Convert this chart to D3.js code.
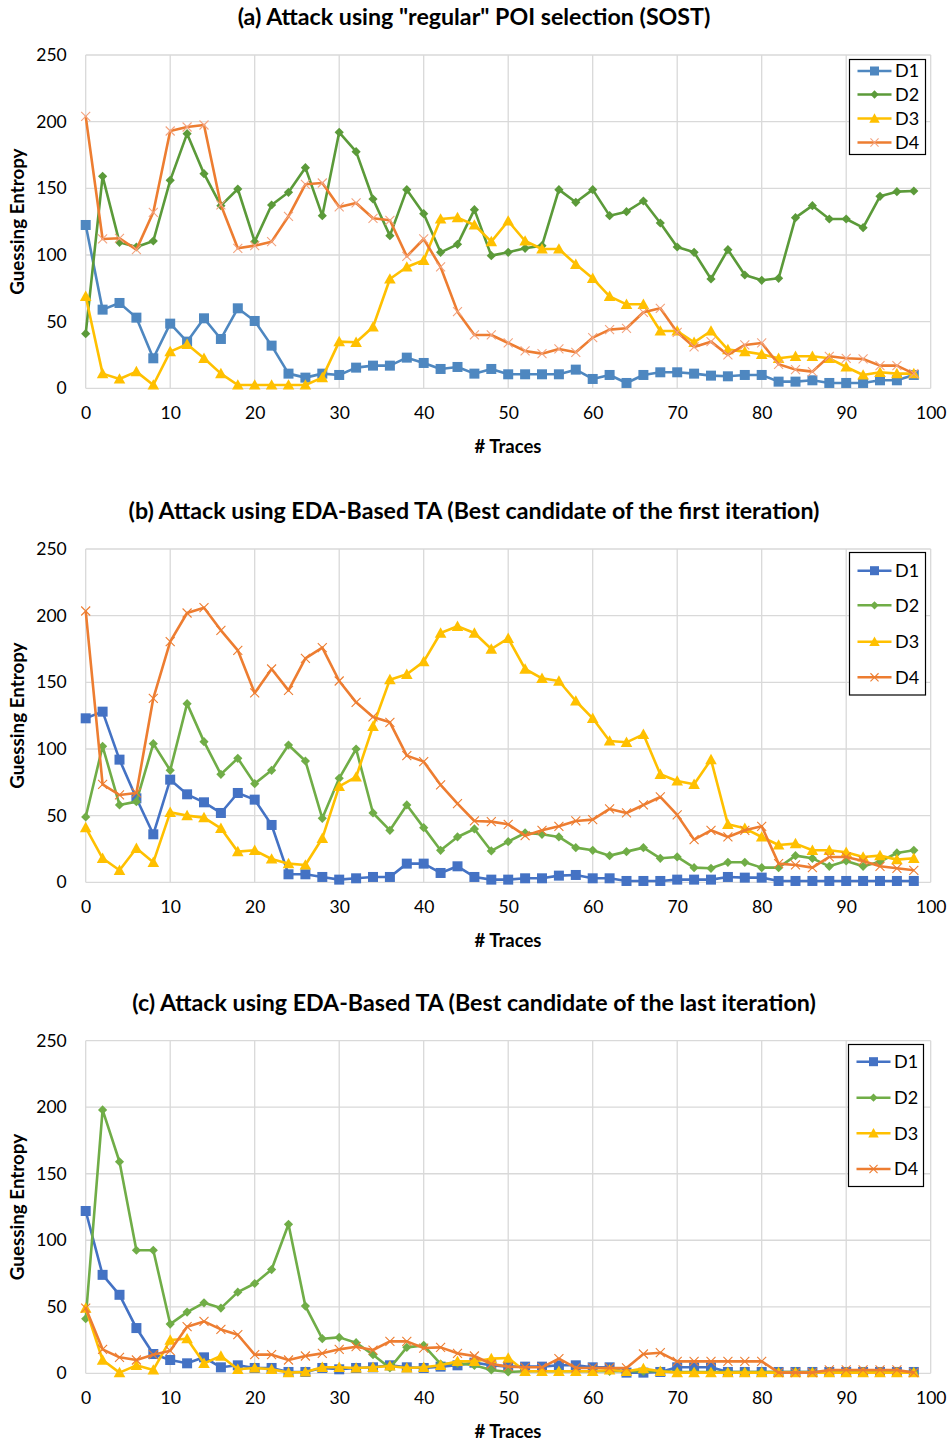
<!DOCTYPE html>
<html><head><meta charset="utf-8">
<script src="https://d3js.org/d3.v7.min.js"></script>
<style>body{margin:0;background:#fff}svg{display:block}</style>
</head><body>
<svg id="c" width="950" height="1445"></svg>
<script>
const traces = [0,2,4,6,8,10,12,14,16,18,20,22,24,26,28,30,32,34,36,38,40,42,44,46,48,50,52,54,56,58,60,62,64,66,68,70,72,74,76,78,80,82,84,86,88,90,92,94,96,98];
const xTicks = [0,10,20,30,40,50,60,70,80,90,100];
const yTicks = [0,50,100,150,200,250];
const seriesNames = ["D1","D2","D3","D4"];
const titles = [
  '(a) Attack using "regular" POI selection (SOST)',
  '(b) Attack using EDA-Based TA (Best candidate of the first iteration)',
  '(c) Attack using EDA-Based TA (Best candidate of the last iteration)'
];
const xLabel = "# Traces";
const yLabel = "Guessing Entropy";

// Panel (a)
const aD1 = [122.5,59,64,53,22.5,48.5,35,52.5,37,60,50.5,32,11,8,11,10,15.5,17,17,23,19,14.5,16,11,14.5,10.5,10.5,10.5,10.5,14,7,10,4,10,12,12,11,9.5,9,10,10,5,5,6,4,4,4,6,6,10];
const aD2 = [41,159,109.5,106,110.5,156,191,161,137,149.5,110,137.5,147,165.5,129.5,192,177.5,142,114.5,149,131,102,108,134,99.5,102,105,107,149,139.5,149,129.5,132.5,140.5,124,106,102,82,104,85,81,82.5,128,137,127,127,120.5,144,147.5,148];
const aD3 = [69,11,7,12.5,2.5,27.5,33,22.5,11,2.5,2.5,2.5,2.5,2.5,8,35,34.5,46,82,91,96,127,128,122.5,110,125.5,110.5,104.5,104.5,93,82.5,69,63,63,43,43,34.5,43,29,27.5,25.5,22.5,24,24,22.5,16,10,12,11,11];
const aD4 = [204,112,112.5,104,132,193,196,197.5,137.5,105,107,110,129,153,154,136,139,127.5,126,99,112,91,57.5,40,40,34,28,26,29.5,27,38,44,45,57,60,42,31,35,25,32.5,34,18,14,12.5,24,22.5,22,17,17,11];

// Panel (b)
const bD1 = [123,128,92,63,36,77,66,60,52,67,62,43,6,6,4,2,3,4,4,14,14,7,12,4,2,2,3,3,5,5.5,3,3,1,1,1,2,2,2,4,3.5,3.5,1,1,1,1,1,1,1,1,1];
const bD2 = [49,102,58,60.5,104,84,134,105.5,81,93,74,84,103,91,48,78,100,52,39,58,41,24,34,40,23.5,30.5,37,36,34,26,24,20,23,26,18,19,11,10.5,15,15,11,11,20,18,12,16,12,15.5,22,24];
const bD3 = [41,18,9,25.5,15,52.5,50,48.5,40.5,23,24,17.5,14,13,33,72,79,117,152,156,165.5,187,192,187,175,183,160,153,151,136,123,106,105,111,81,76,73.5,92,43.5,40.5,34,28,29,24,24,22.5,19,20,17,18];
const bD4 = [203.5,73.5,65.5,67,138,180.5,202,206,189,174,142,160,144,168,176,151,135,124,120,95,90.5,73,59,46,45.5,43.5,35,39,42,46,47,55,52,58,64,50.5,32,39,34,39,42,14,13,11,19,19,16,12,10.5,9];

// Panel (c)
const cD1 = [122,74,59,34,14.5,10,7.5,12,4.5,6,4,4,1,1,4,3,4,4.5,6,4.5,4,5,6,8,6,5,5,5,6,6,4.5,4.5,0.5,0.5,1,4.5,4.5,4.5,1,1,1,1,1,1,1,1,1,1,1,1];
const cD2 = [41,198,159,92.5,92.5,37,46,53,49,61,67.5,78,112,50.5,26,27,23,14,4,19.5,21,7,7.5,6,2.5,1,1.5,1.5,1.5,1.5,1.5,1.5,1.5,1.5,1.5,1,1,1,1,1,1,1,1,1,1,1,1,1,1,1];
const cD3 = [49,10,0.5,6,2.5,25,26,7.5,13,3,4,3,0.5,1,4.5,4.5,4,4.5,5.5,4,4.5,6,9,9,11,11.5,1.5,1.5,1.5,1.5,1.5,2.5,1.5,3.5,1.5,0.5,0.5,0.5,0.5,0.5,0.5,0.5,0.5,0.5,0.5,0.5,0.5,0.5,0.5,0.5];
const cD4 = [49,18,12,10,14,17,35,39,33,29,14,14,10,13,15,18,20,17.5,24,24,19,19.5,15,13,7,5,4.5,4.5,11,4,4,4,4,14.5,15.5,9,9,9,9,9,9,0.5,0.5,0.5,2.5,2.5,2.5,2.5,2.5,0.5];

const panels = [
  {title: titles[0], top: 55, bottom: 388.3, data: [aD1,aD2,aD3,aD4],
   colors: ["#4e87c0","#5b9a39","#ffc000","#ed7d31"], xMark: "#f3a37f",
   legend: {x: 849.5, y: 59.5, w: 76, h: 95, rows: [71, 94.5, 118.5, 142.5]}},
  {title: titles[1], top: 549, bottom: 882.3, data: [bD1,bD2,bD3,bD4],
   colors: ["#4472c4","#70ad47","#ffc000","#ed7d31"], xMark: "#ed7d31",
   legend: {x: 849.5, y: 552.5, w: 76, h: 142.5, rows: [570.7, 605.3, 641.7, 677.3]}},
  {title: titles[2], top: 1040.7, bottom: 1373.3, data: [cD1,cD2,cD3,cD4],
   colors: ["#4472c4","#70ad47","#ffc000","#ed7d31"], xMark: "#ed7d31",
   legend: {x: 848.5, y: 1044.5, w: 75, h: 142, rows: [1061.7, 1097.7, 1133.3, 1169]}}
];

const svg = d3.select("#c");
const left = 85.7, right = 930.7;
const FONT = "Lato, 'Open Sans', sans-serif";

function marker(g, k, cx, cy, color, xMark, scale) {
  const s = scale || 1;
  if (k === 0) {
    g.append("rect").attr("x", cx-5*s).attr("y", cy-5*s).attr("width", 10*s).attr("height", 10*s).attr("fill", color);
  } else if (k === 1) {
    const r = 4.6*s;
    g.append("path").attr("d", `M${cx},${cy-r}L${cx+r},${cy}L${cx},${cy+r}L${cx-r},${cy}Z`).attr("fill", color);
  } else if (k === 2) {
    const r = 5.8*s;
    g.append("path").attr("d", `M${cx},${cy-r}L${cx+r},${cy+r*0.8}L${cx-r},${cy+r*0.8}Z`).attr("fill", color);
  } else {
    const r = 4.5*s;
    g.append("path").attr("d", `M${cx-r},${cy-r}L${cx+r},${cy+r}M${cx-r},${cy+r}L${cx+r},${cy-r}`)
      .attr("stroke", xMark).attr("stroke-width", 1.1).attr("fill", "none");
  }
}

panels.forEach(p => {
  const x = d3.scaleLinear().domain([0,100]).range([left, right]);
  const y = d3.scaleLinear().domain([0,250]).range([p.bottom, p.top]);
  const g = svg.append("g");

  // gridlines
  g.append("g").selectAll("line").data(yTicks).join("line")
    .attr("x1", left).attr("x2", right).attr("y1", d => y(d)).attr("y2", d => y(d))
    .attr("stroke", "#d9d9d9").attr("stroke-width", 1.3);
  g.append("g").selectAll("line").data(xTicks).join("line")
    .attr("x1", d => x(d)).attr("x2", d => x(d)).attr("y1", p.top).attr("y2", p.bottom)
    .attr("stroke", "#d9d9d9").attr("stroke-width", 1.3);

  // axes (labels only)
  const xa = g.append("g").attr("transform", `translate(0,${p.bottom})`)
    .call(d3.axisBottom(x).tickValues(xTicks).tickSize(0).tickPadding(18));
  xa.select(".domain").remove();
  xa.selectAll("text").attr("font-family", FONT).attr("font-size", 17.5).attr("fill", "#000");
  const ya = g.append("g").attr("transform", `translate(${left},0)`)
    .call(d3.axisLeft(y).tickValues(yTicks).tickSize(0).tickPadding(19));
  ya.select(".domain").remove();
  ya.selectAll("text").attr("font-family", FONT).attr("font-size", 17.5).attr("fill", "#000");

  // title
  g.append("text").attr("x", 474).attr("y", p.top - 30).attr("text-anchor", "middle")
    .attr("font-family", FONT).attr("font-weight", "bold").attr("font-size", 23.2).text(p.title);
  // axis titles
  g.append("text").attr("x", 508).attr("y", p.bottom + 65).attr("text-anchor", "middle")
    .attr("font-family", FONT).attr("font-weight", "bold").attr("font-size", 18.5).text(xLabel);
  g.append("text").attr("transform", `translate(24,${(p.top+p.bottom)/2}) rotate(-90)`).attr("text-anchor", "middle")
    .attr("font-family", FONT).attr("font-weight", "bold").attr("font-size", 18.8).text(yLabel);

  // series
  const line = d3.line().x((d,i) => x(traces[i])).y(d => y(d));
  p.data.forEach((vals, k) => {
    g.append("path").datum(vals).attr("d", line).attr("fill", "none")
      .attr("stroke", p.colors[k]).attr("stroke-width", 2.6).attr("stroke-linejoin", "round");
    const mg = g.append("g");
    vals.forEach((v, i) => marker(mg, k, x(traces[i]), y(v), p.colors[k], p.xMark));
  });

  // legend
  const L = p.legend;
  const lg = g.append("g");
  lg.append("rect").attr("x", L.x).attr("y", L.y).attr("width", L.w).attr("height", L.h)
    .attr("fill", "#fff").attr("stroke", "#000").attr("stroke-width", 1.2);
  seriesNames.forEach((n, k) => {
    const ry = L.rows[k];
    lg.append("line").attr("x1", L.x + 8).attr("x2", L.x + 42).attr("y1", ry).attr("y2", ry)
      .attr("stroke", p.colors[k]).attr("stroke-width", 2.6);
    marker(lg, k, L.x + 25, ry, p.colors[k], p.xMark, 0.9);
    lg.append("text").attr("x", L.x + 45.5).attr("y", ry).attr("dy", "0.36em")
      .attr("font-family", FONT).attr("font-size", 18).text(n);
  });
});
</script>
</body></html>
